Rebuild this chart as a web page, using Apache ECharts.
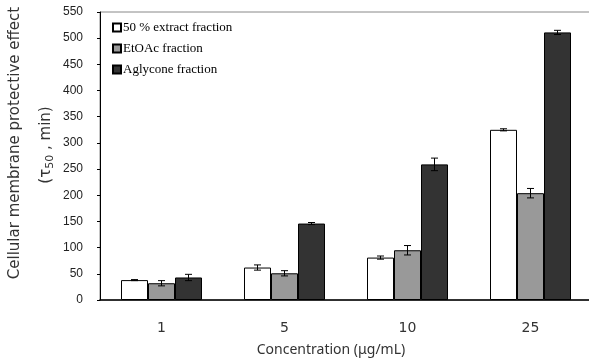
<!DOCTYPE html>
<html>
<head>
<meta charset="utf-8">
<script src="https://cdn.jsdelivr.net/npm/echarts@6/dist/echarts.min.js"></script>
<style>
html,body{margin:0;padding:0;background:#fff;}
#chart{width:589px;height:361px;}
</style>
</head>
<body>
<div id="chart"></div>
<script>
var categories = ['1', '5', '10', '25'];
var seriesNames = ['50 % extract fraction', 'EtOAc fraction', 'Aglycone fraction'];
var extractVals = [38, 62, 81, 325];
var extractErr = [1, 5, 3, 2];
var etoacVals = [32, 51, 95, 204];
var etoacErr = [5, 5, 9, 9];
var aglyconeVals = [43, 146, 259, 511];
var aglyconeErr = [6, 2, 12, 4];
var yTicks = [0, 50, 100, 150, 200, 250, 300, 350, 400, 450, 500, 550];

var colors = ['#ffffff', '#999999', '#333333'];
var allVals = [extractVals, etoacVals, aglyconeVals];
var allErr = [extractErr, etoacErr, aglyconeErr];
var barW = 27;

var myChart = echarts.init(document.getElementById('chart'));

var series = [];
for (var i = 0; i < 3; i++) {
  series.push({
    name: seriesNames[i],
    type: 'bar',
    barWidth: barW,
    barGap: '0%',
    data: allVals[i],
    itemStyle: { color: colors[i], borderColor: '#000', borderWidth: 1 },
    z: 2
  });
}
for (i = 0; i < 3; i++) {
  (function (k) {
    var d = [];
    for (var j = 0; j < categories.length; j++) {
      d.push([j, allVals[k][j], allErr[k][j]]);
    }
    series.push({
      type: 'custom',
      name: 'err' + k,
      z: 5,
      data: d,
      renderItem: function (params, api) {
        var idx = api.value(0);
        var v = api.value(1);
        var e = api.value(2);
        var hi = api.coord([idx, v + e]);
        var lo = api.coord([idx, v - e]);
        var x = hi[0] + (k - 1) * barW;
        var cap = 3.5;
        var st = { stroke: '#000', lineWidth: 1 };
        return {
          type: 'group',
          children: [
            { type: 'line', shape: { x1: x, y1: hi[1], x2: x, y2: lo[1] }, style: st },
            { type: 'line', shape: { x1: x - cap, y1: hi[1], x2: x + cap, y2: hi[1] }, style: st },
            { type: 'line', shape: { x1: x - cap, y1: lo[1], x2: x + cap, y2: lo[1] }, style: st }
          ]
        };
      }
    });
  })(i);
}

var option = {
  animation: false,
  grid: {
    left: 100, right: -3, top: 12, bottom: 61,
    outerBoundsMode: 'none',
    containLabel: false,
    show: true, borderColor: '#888', borderWidth: 1, backgroundColor: 'transparent'
  },
  // y axis title, two lines with subscript
  graphic: [
    {
      type: 'text', x: 15, y: 143, rotation: Math.PI / 2,
      style: {
        text: 'Cellular membrane protective effect',
        fontFamily: 'DejaVu Sans', fontSize: 15, fill: '#333',
        align: 'center', verticalAlign: 'middle'
      }
    },
    {
      type: 'text', x: 46, y: 145, rotation: Math.PI / 2,
      style: {
        text: '{b|(τ}{s|50}{b| , min)}',
        align: 'center', verticalAlign: 'middle',
        rich: {
          b: { fontFamily: 'DejaVu Sans', fontSize: 15, fill: '#333', color: '#333', lineHeight: 14 },
          s: { fontFamily: 'DejaVu Sans', fontSize: 11, fill: '#333', color: '#333', lineHeight: 20, verticalAlign: 'bottom' }
        }
      }
    }
  ],
  legend: {
    data: seriesNames,
    orient: 'vertical',
    left: 112, top: 21,
    padding: 0,
    itemWidth: 8, itemHeight: 8, itemGap: 8,
    icon: 'rect',
    textStyle: { fontFamily: 'Liberation Serif', fontSize: 13, color: '#000', padding: [0, 0, 0, -3] }
  },
  xAxis: {
    type: 'category',
    data: categories,
    axisLine: { lineStyle: { color: '#000', width: 1.5 } },
    axisTick: { inside: true, length: 5, lineStyle: { color: '#555' } },
    axisLabel: { fontFamily: 'DejaVu Sans', fontSize: 14, color: '#333', margin: 21 },
    name: 'Concentration (μg/mL)',
    nameLocation: 'middle',
    nameGap: 43,
    nameTextStyle: { fontFamily: 'Noto Sans', fontSize: 14, color: '#333', padding: [0, 30, 0, 0] }
  },
  yAxis: {
    type: 'value',
    min: yTicks[0], max: yTicks[yTicks.length - 1], interval: 50,
    axisLine: { show: true, lineStyle: { color: '#000' } },
    axisTick: { show: true, length: 3, lineStyle: { color: '#000' } },
    splitLine: { show: false },
    axisLabel: { fontFamily: 'Liberation Sans', fontSize: 12, color: '#222', margin: 17 }
  },
  series: series
};
myChart.setOption(option);
window.addEventListener('resize', function () {
  myChart.resize();
});
</script>
</body>
</html>
